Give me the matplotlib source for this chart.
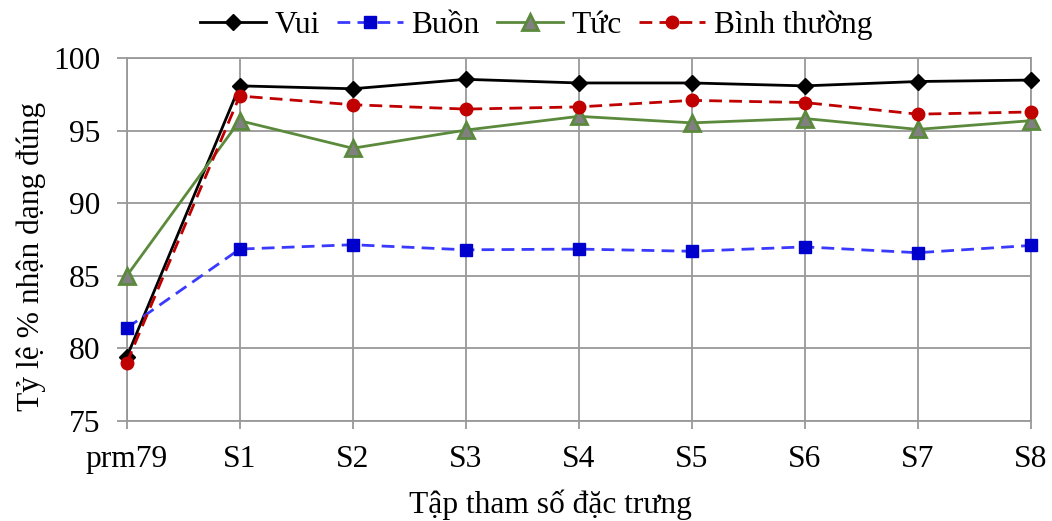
import matplotlib
matplotlib.use("Agg")
import matplotlib.pyplot as plt

plt.rcParams['font.family'] = ['Liberation Serif', 'DejaVu Serif']

categories = ["prm79", "S1", "S2", "S3", "S4", "S5", "S6", "S7", "S8"]
vui = [79.4, 98.1, 97.9, 98.55, 98.3, 98.3, 98.1, 98.4, 98.5]
buon = [81.4, 86.85, 87.15, 86.8, 86.85, 86.7, 87.0, 86.6, 87.1]
tuc = [85.0, 95.7, 93.8, 95.05, 96.0, 95.55, 95.85, 95.1, 95.7]
binh_thuong = [79.0, 97.4, 96.8, 96.5, 96.65, 97.1, 96.95, 96.15, 96.3]

series_names = ["Vui", "Buồn", "Tức", "Bình thường"]
y_ticks = [75, 80, 85, 90, 95, 100]

W, H = 1052, 521
fig = plt.figure(figsize=(W / 100, H / 100), dpi=100)
ax = fig.add_axes([126.7 / W, 1 - 421 / H, (1030.7 - 126.7) / W, (421 - 58.3) / H])

x = list(range(len(categories)))
grid_c = "#999999"
lw = 2.0
fs = 22.7

ax.plot(x, vui, color="black", lw=lw, marker="D", markersize=8,
        markerfacecolor="black", markeredgecolor="black", label=series_names[0],
        zorder=3, clip_on=False)
ax.plot(x, buon, color="#3a3aff", lw=lw, dashes=(4.6, 2.6), marker="s", markersize=9,
        markerfacecolor="#0000cc", markeredgecolor="#0000cc", label=series_names[1],
        zorder=4, clip_on=False)
ax.plot(x, tuc, color="#5b8a3c", lw=lw, marker="^", markersize=11.5,
        markerfacecolor="#808080", markeredgecolor="#5b8a3c", markeredgewidth=2.0,
        label=series_names[2], zorder=5, clip_on=False)
ax.plot(x, binh_thuong, color="#c00000", lw=lw, dashes=(4.6, 2.6), marker="o", markersize=9,
        markerfacecolor="#c00000", markeredgecolor="#c00000", label=series_names[3],
        zorder=6, clip_on=False)

ax.set_xlim(0, 8)
ax.set_ylim(75, 100)
ax.set_xticks(x)
ax.set_xticklabels(categories)
ax.set_yticks(y_ticks)

ax.grid(True, color=grid_c, lw=1.3, zorder=0)
ax.set_axisbelow(True)
for s in ax.spines.values():
    s.set_color(grid_c)
    s.set_linewidth(1.3)

ax.tick_params(axis="both", colors=grid_c, labelcolor="black", labelsize=fs, width=1.3)
ax.tick_params(axis="y", length=7.2, pad=12)
ax.tick_params(axis="x", length=6, pad=11)

fig.text(550 / W, 1 - 513 / H, "Tập tham số đặc trưng", ha="center", va="baseline", fontsize=fs)
fig.text(31 / W, 1 - 256 / H, "Tỷ lệ % nhận dạng đúng", ha="center", va="center",
         rotation=90, fontsize=fs)

fig.legend(loc="center", bbox_to_anchor=(536 / W, 1 - 25 / H), ncol=4, frameon=False,
           fontsize=fs, handlelength=2.1, handletextpad=0.26, columnspacing=0.55,
           borderpad=0, borderaxespad=0, numpoints=1)

fig.savefig("out.png", dpi=100)
